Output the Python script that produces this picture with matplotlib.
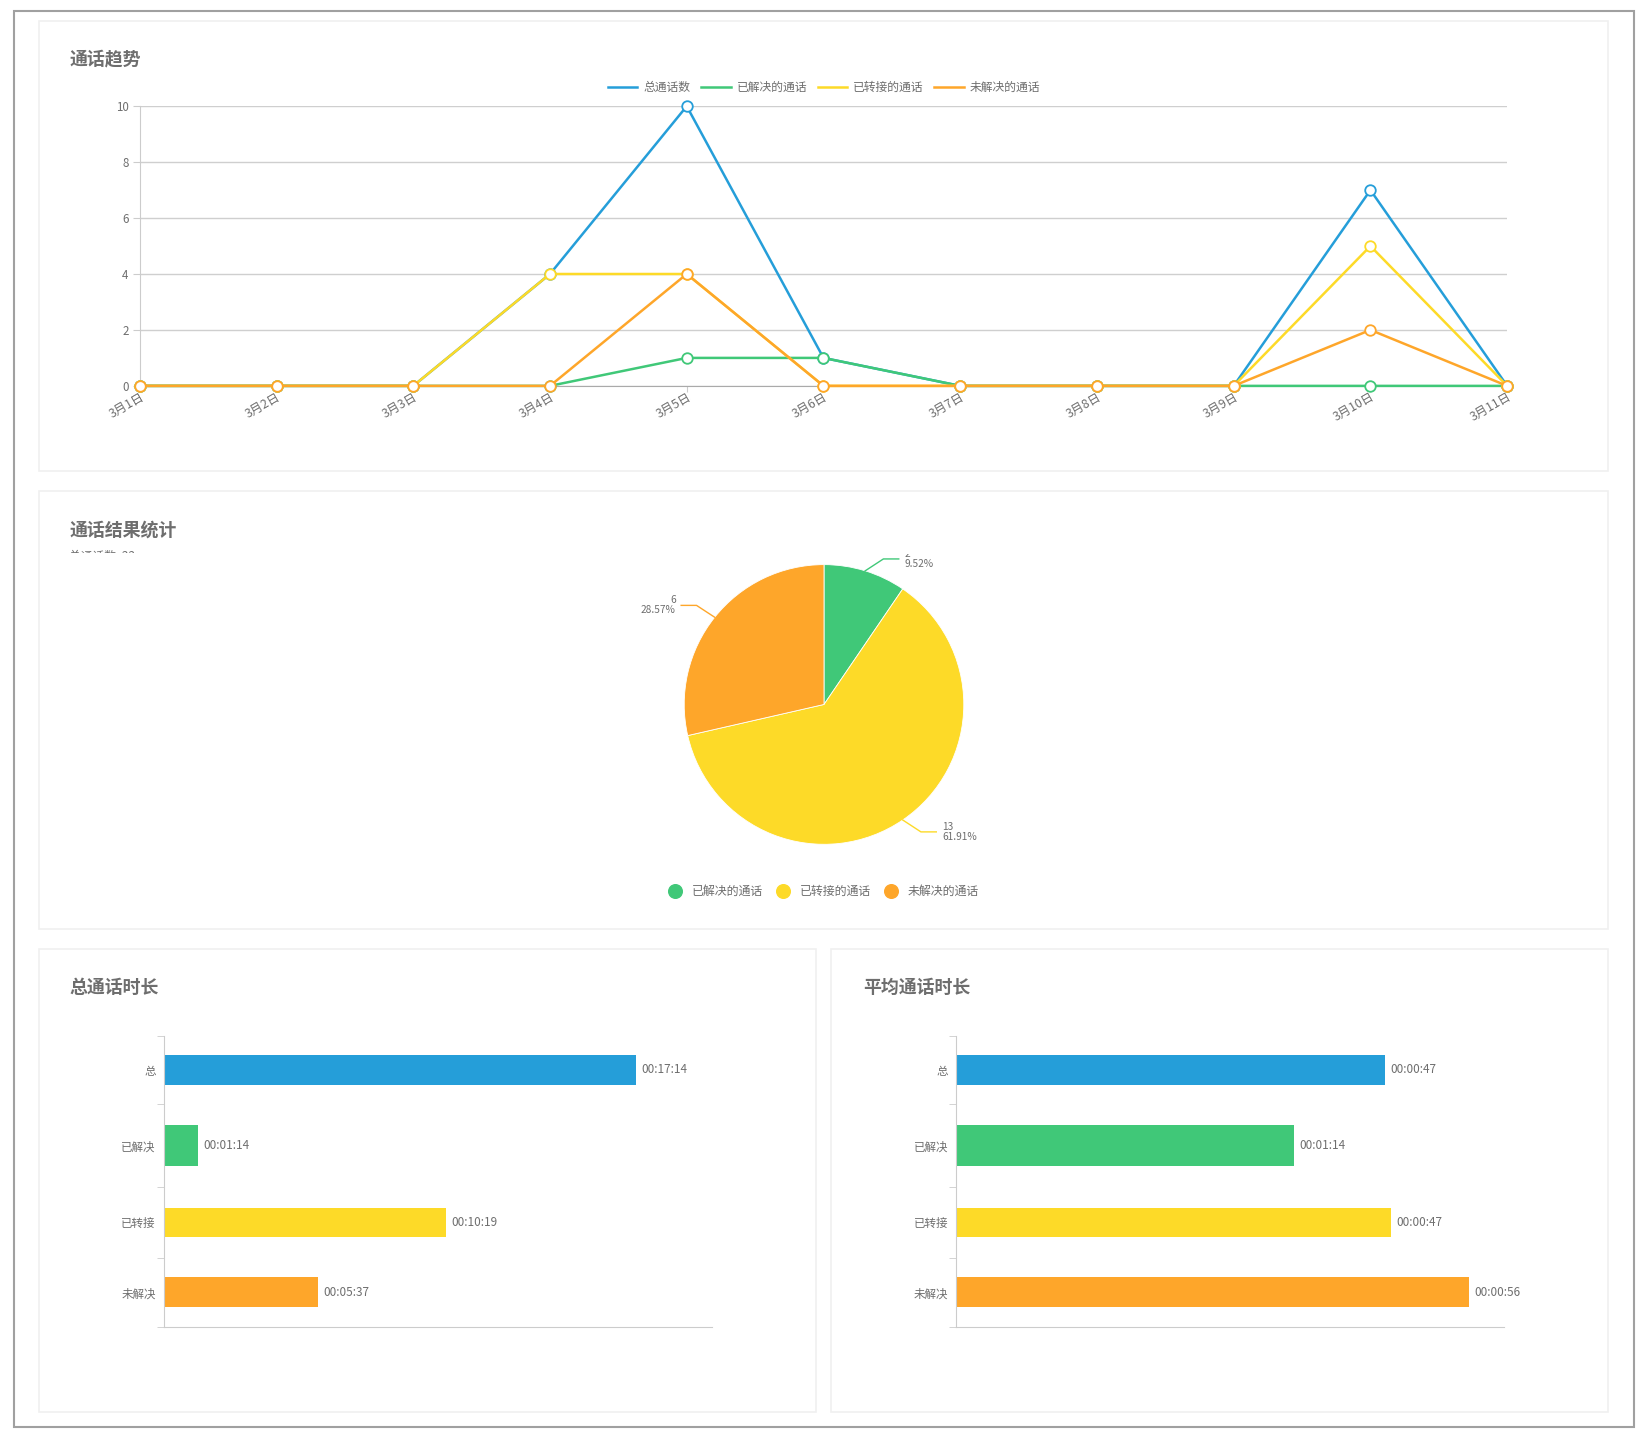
import matplotlib
matplotlib.use('Agg')
import matplotlib.pyplot as plt
from matplotlib.patches import Rectangle
from matplotlib.lines import Line2D
import numpy as np

plt.rcParams['font.family'] = ['Noto Sans CJK SC', 'DejaVu Sans']

# ---- data ----
dates = ['3月1日', '3月2日', '3月3日', '3月4日', '3月5日', '3月6日',
         '3月7日', '3月8日', '3月9日', '3月10日', '3月11日']
total_calls = [0, 0, 0, 4, 10, 1, 0, 0, 0, 7, 0]
resolved_calls = [0, 0, 0, 0, 1, 1, 0, 0, 0, 0, 0]
transfer_calls = [0, 0, 0, 4, 4, 0, 0, 0, 0, 5, 0]
unresolved_calls = [0, 0, 0, 0, 4, 0, 0, 0, 0, 2, 0]
line_names = ['总通话数', '已解决的通话', '已转接的通话', '未解决的通话']

pie_names = ['已解决的通话', '已转接的通话', '未解决的通话']
pie_values = [2, 13, 6]
pie_pcts = ['9.52%', '61.91%', '28.57%']
total_count = 22

bar_cats = ['总', '已解决', '已转接', '未解决']
total_dur = [1034, 74, 619, 337]          # seconds
total_dur_lbl = ['00:17:14', '00:01:14', '00:10:19', '00:05:37']
avg_dur = [47.0, 37.0, 47.6, 56.2]        # seconds
avg_dur_lbl = ['00:00:47', '00:01:14', '00:00:47', '00:00:56']

BLUE, GREEN, YELLOW, ORANGE = '#259ed9', '#40c878', '#fdda28', '#fea62a'
TXT = '#6e6e6e'
AX = '#cccccc'

# layout in screen units (reference scaled to 1568 wide)
W0, H0 = 1568.0, 1361.0
def box(x0, y0, x1, y1):
    return [x0 / W0, 1 - y1 / H0, (x1 - x0) / W0, (y1 - y0) / H0]
def fx(x):
    return x / W0
def fy(y):
    return 1 - y / H0

fig = plt.figure(figsize=(16.48, 14.31), dpi=100)
fig.patch.set_facecolor('white')

# outer frame and cards
fig.patches.append(Rectangle((fx(13), fy(1357)), fx(1555) - fx(13), fy(10) - fy(1357),
                             transform=fig.transFigure, fill=False, ec='#a0a0a0', lw=1.5,
                             zorder=-10))
for (x0, y0, x1, y1) in [(37, 20, 1530, 448), (37, 467, 1530, 884),
                         (37, 903, 776, 1343), (791, 903, 1530, 1343)]:
    fig.patches.append(Rectangle((fx(x0), fy(y1)), fx(x1) - fx(x0), fy(y0) - fy(y1),
                                 transform=fig.transFigure, fc='white', ec='#f0f0f0', lw=1.2,
                                 zorder=-10))

title_kw = dict(fontsize=12.9, fontweight='bold', color=TXT, va='center', ha='left')
fig.text(fx(66), fy(57), '通话趋势', **title_kw)
fig.text(fx(66), fy(505), '通话结果统计', **title_kw)
fig.text(fx(66), fy(940), '总通话时长', **title_kw)
fig.text(fx(821), fy(940), '平均通话时长', **title_kw)

# subtitle clipped by its container
sub_ax = fig.add_axes(box(40, 515, 400, 526))
sub_ax.axis('off')
sub_ax.set_xlim(0, 1)
sub_ax.set_ylim(0, 1)
sub_ax.text(26 / 360, -0.25, '总通话数: %d' % total_count, fontsize=8.5, color=TXT,
            ha='left', va='center', clip_on=True)

# ---- line chart ----
ax = fig.add_axes(box(133, 101, 1434, 367))
x = np.arange(len(dates))
series = [total_calls, resolved_calls, transfer_calls, unresolved_calls]
colors = [BLUE, GREEN, YELLOW, ORANGE]
for vals, c, name in zip(series, colors, line_names):
    ax.plot(x, vals, color=c, lw=1.8, marker='o', ms=7.6, mfc='white', mec=c,
            mew=1.3, clip_on=False, label=name, zorder=3)
ax.set_xlim(0, 10)
ax.set_ylim(0, 10)
ax.set_yticks([0, 2, 4, 6, 8, 10])
ax.grid(axis='y', color='#cfcfcf', lw=1)
ax.set_axisbelow(True)
for s in ['top', 'right']:
    ax.spines[s].set_visible(False)
ax.spines['left'].set_color(AX)
ax.spines['bottom'].set_color('#aaaaaa')
ax.set_xticks(x)
ax.set_xticklabels(dates, rotation=30, ha='right', rotation_mode='anchor')
ax.tick_params(axis='x', colors=AX, labelcolor=TXT, labelsize=8.8, length=4, pad=-1)
ax.tick_params(axis='y', colors=AX, labelcolor=TXT, labelsize=8.3, length=5, pad=3)
ax.legend(loc='center', bbox_to_anchor=(fx(784), fy(83)), bbox_transform=fig.transFigure,
          ncol=4, frameon=False, fontsize=8.5, handlelength=2.5, handletextpad=0.5,
          columnspacing=0.9, labelcolor=TXT, markerscale=0)

# ---- pie chart ----
R = 133.0
cx, cy = 784.0, 670.0
pax = fig.add_axes(box(37, 527, 1530, 880))
pie_colors = [GREEN, YELLOW, ORANGE]
wedges, _ = pax.pie(pie_values, colors=pie_colors, startangle=90, counterclock=False,
                    radius=1, center=(0, 0), frame=True,
                    wedgeprops=dict(lw=0.6, ec='white'))
pax.set_xlim((37 - cx) / R, (1530 - cx) / R)
pax.set_ylim(-(880 - cy) / R, (cy - 527) / R)
pax.set_aspect('auto')
pax.axis('off')
for w, v, p, c in zip(wedges, pie_values, pie_pcts, pie_colors):
    th = np.deg2rad((w.theta1 + w.theta2) / 2)
    ca, sa = np.cos(th), np.sin(th)
    sgn = 1 if ca >= 0 else -1
    p0 = (ca, sa)
    p1 = (ca + sgn * 0.13, sa + np.sign(sa) * 0.085)
    p2 = (p1[0] + sgn * 0.11, p1[1])
    pax.plot([p0[0], p1[0], p2[0]], [p0[1], p1[1], p2[1]], color=c, lw=1, clip_on=True)
    pax.text(p2[0] + sgn * 0.04, p2[1], '%d\n%s' % (v, p), fontsize=7.3, color=TXT,
             ha='left' if sgn > 0 else 'right', va='center', linespacing=1.0,
             clip_on=True)

handles = [Line2D([], [], ls='none', marker='o', ms=9.8, mfc=c, mec=c) for c in pie_colors]
fig.legend(handles, pie_names, loc='center', bbox_to_anchor=(fx(784), fy(848)),
           ncol=3, frameon=False, fontsize=8.6, handlelength=1.0, handletextpad=0.9,
           columnspacing=1.2, labelcolor=TXT)

# ---- bar charts ----
# category band edges (screen px from the top of the plot area) and bar thickness
band_edges = np.array([0, 65, 144, 211, 277], dtype=float)
bar_thick = [28, 39, 28, 28]

def bar_chart(rect, vals, lbls, xmax):
    bx = fig.add_axes(rect)
    y = (band_edges[:-1] + band_edges[1:]) / 2
    bx.barh(y, vals, height=bar_thick, color=[BLUE, GREEN, YELLOW, ORANGE])
    for yi, v, t in zip(y, vals, lbls):
        bx.text(v + xmax * 0.0095, yi, t, fontsize=8.5, color=TXT, va='center', ha='left')
    bx.set_xlim(0, xmax)
    bx.set_ylim(band_edges[-1], band_edges[0])
    bx.set_yticks(y)
    bx.set_yticklabels(bar_cats)
    bx.set_yticks(band_edges, minor=True)
    bx.set_xticks([])
    bx.tick_params(axis='y', which='major', length=0, pad=6, labelsize=8.3, labelcolor=TXT)
    bx.tick_params(axis='y', which='minor', length=5, color=AX)
    for s in ['top', 'right']:
        bx.spines[s].set_visible(False)
    bx.spines['left'].set_color(AX)
    bx.spines['bottom'].set_color(AX)
    return bx

bar_chart(box(156, 985, 677, 1262), total_dur, total_dur_lbl, 1200)
bar_chart(box(910, 985, 1431, 1262), avg_dur, avg_dur_lbl, 60)

fig.savefig('out.png', dpi=100, facecolor='white')
